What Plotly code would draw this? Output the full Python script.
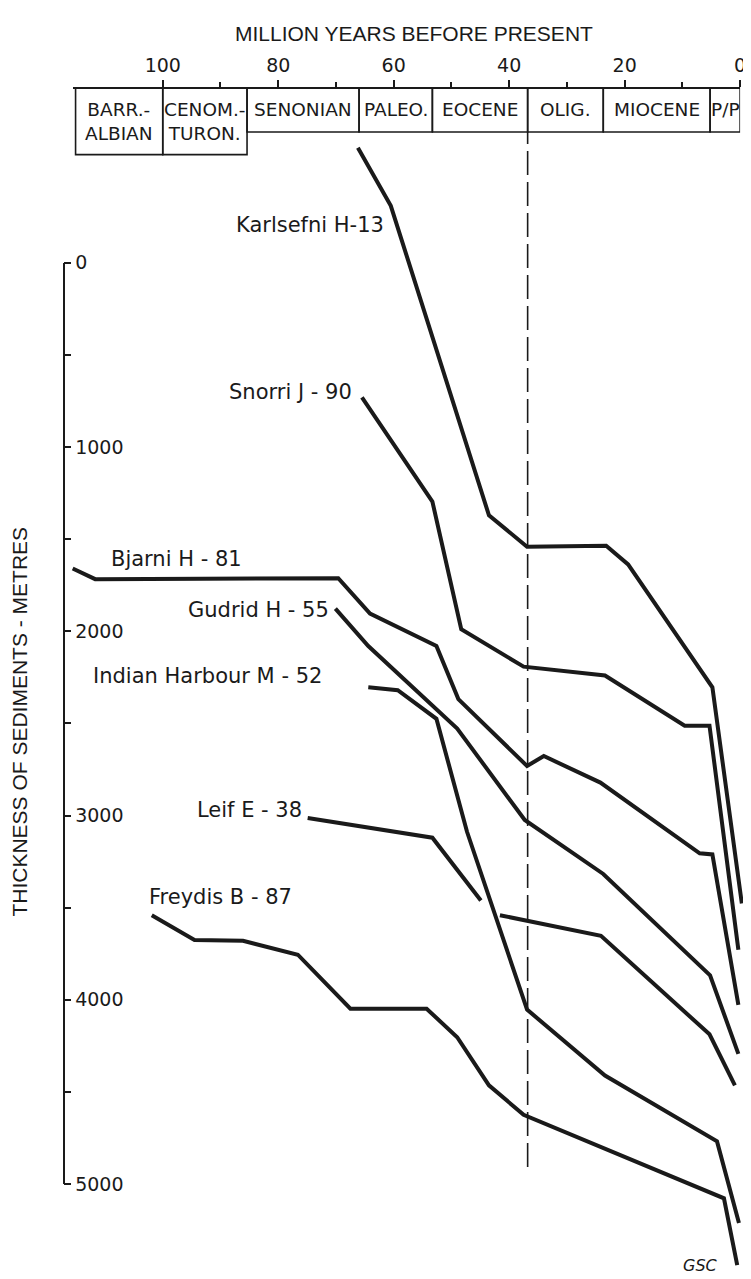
import plotly.graph_objects as go

# ---------------- data ----------------
age_ticks = [0, 20, 40, 60, 80, 100]
age_minor = [10, 30, 50, 70, 90]
depth_ticks = [0, 1000, 2000, 3000, 4000, 5000]
depth_minor = [500, 1500, 2500, 3500, 4500]

epoch_names = ["BARR.-<br>ALBIAN", "CENOM.-<br>TURON.", "SENONIAN", "PALEO.",
               "EOCENE", "OLIG.", "MIOCENE", "P/P"]
epoch_start = [115.1, 100.0, 85.4, 66.0, 53.3, 36.8, 23.7, 5.2]
epoch_end = [100.0, 85.4, 66.0, 53.3, 36.8, 23.7, 5.2, 0.0]
eo_olig_boundary = 36.8

karlsefni_age = [66.2, 60.5, 43.5, 36.9, 23.2, 19.4, 4.8, -0.3]
karlsefni_depth = [-624, -309, 1371, 1541, 1536, 1637, 2304, 3477]

snorri_age = [65.5, 53.3, 48.3, 37.5, 23.4, 9.6, 5.3, 0.3]
snorri_depth = [731, 1296, 1989, 2192, 2240, 2512, 2512, 3728]

bjarni_age = [115.6, 111.7, 69.6, 64.1, 52.6, 48.8, 36.9, 34.0, 24.2, 7.0, 4.8, 0.3]
bjarni_depth = [1659, 1717, 1712, 1904, 2080, 2368, 2731, 2677, 2821, 3205, 3211, 4027]

gudrid_age = [70.1, 64.4, 49.0, 37.3, 23.7, 5.2, 0.3]
gudrid_depth = [1877, 2080, 2528, 3024, 3317, 3867, 4293]

indian_age = [64.4, 59.3, 52.6, 47.3, 36.9, 23.4, 4.0, 0.2]
indian_depth = [2304, 2320, 2475, 3088, 4053, 4411, 4768, 5211]

leif_age = [74.9, 53.3, 44.9, None, 41.6, 24.1, 5.3, 0.9]
leif_depth = [3013, 3120, 3461, None, 3541, 3653, 4187, 4464]

freydis_age = [101.9, 94.5, 86.1, 76.6, 67.5, 54.3, 49.0, 43.5, 37.5, 2.8, 0.5]
freydis_depth = [3541, 3675, 3680, 3755, 4048, 4048, 4203, 4464, 4624, 5077, 5440]

well_names = ["Karlsefni H-13", "Snorri J - 90", "Bjarni H - 81", "Gudrid H - 55",
              "Indian Harbour M - 52", "Leif E - 38", "Freydis B - 87"]
well_ages = [karlsefni_age, snorri_age, bjarni_age, gudrid_age, indian_age, leif_age, freydis_age]
well_depths = [karlsefni_depth, snorri_depth, bjarni_depth, gudrid_depth, indian_depth,
               leif_depth, freydis_depth]

# ---------------- layout / style ----------------
W, H = 751, 1279
PX_PER_MYR = 5.82
X_PRESENT = 738.0
PX_PER_M = 0.1875
Y_SURFACE = 248.0
X_AXIS_LEFT = 66.0


def px_to_age(px):
    return (X_PRESENT - px) / PX_PER_MYR


def py_to_depth(py):
    return (py - Y_SURFACE) / PX_PER_M


INK = "#1a1a1a"
FONT = "DejaVu Sans"
TITLE_FONT = "Liberation Sans"

# label anchor positions (right edge px, centre y px)
label_pos = [(381, 210), (349, 380), (238, 549), (326, 601), (319, 668), (298, 805), (288, 893)]

fig = go.Figure()

for name, a, d in zip(well_names, well_ages, well_depths):
    fig.add_trace(go.Scatter(x=a, y=d, mode="lines", name=name,
                             line=dict(color=INK, width=4), connectgaps=False,
                             showlegend=False, hoverinfo="skip"))

# dummy traces so the display axes are drawn
fig.add_trace(go.Scatter(x=[None], y=[None], xaxis="x2", yaxis="y", showlegend=False))
fig.add_trace(go.Scatter(x=[None], y=[None], xaxis="x", yaxis="y2", showlegend=False))

box_top = 1 - 70 / H
box_bot = 1 - 115 / H
box_bot_low = 1 - 138 / H

shapes = []
annotations = []
for i, (nm, s, e) in enumerate(zip(epoch_names, epoch_start, epoch_end)):
    bot = box_bot_low if i < 2 else box_bot
    shapes.append(dict(type="rect", xref="x2", yref="paper", x0=s, x1=e, y0=bot, y1=box_top,
                       line=dict(color=INK, width=1.6), fillcolor="rgba(0,0,0,0)"))
    annotations.append(dict(xref="x2", yref="paper", x=(s + e) / 2, y=(bot + box_top) / 2,
                            text=nm, showarrow=False, xanchor="center", yanchor="middle",
                            font=dict(family=FONT, size=18.5, color=INK)))

# Eocene / Oligocene dashed line
shapes.append(dict(type="line", xref="x2", yref="paper", x0=eo_olig_boundary, x1=eo_olig_boundary,
                   y0=1 - 1168 / H, y1=box_bot, line=dict(color=INK, width=1.6, dash="24px,7px")))

for nm, (rx, cy) in zip(well_names, label_pos):
    annotations.append(dict(xref="x", yref="y", x=px_to_age(rx), y=py_to_depth(cy), text=nm,
                            showarrow=False, xanchor="right", yanchor="middle",
                            font=dict(family=FONT, size=21, color=INK)))

annotations.append(dict(xref="x", yref="y", x=px_to_age(718), y=py_to_depth(1268),
                        text="<i>GSC</i>", showarrow=False, xanchor="right", yanchor="middle",
                        font=dict(family=FONT, size=16, color=INK)))

annotations.append(dict(xref="paper", yref="paper", x=409 / W, y=1 - 15 / H,
                        text="MILLION YEARS BEFORE PRESENT", showarrow=False,
                        xanchor="center", yanchor="middle",
                        font=dict(family=TITLE_FONT, size=21, color=INK)))
annotations.append(dict(xref="paper", yref="paper", x=12 / W, y=1 - 715 / H,
                        text="THICKNESS OF SEDIMENTS - METRES", showarrow=False, textangle=-90,
                        xanchor="center", yanchor="middle",
                        font=dict(family=TITLE_FONT, size=21, color=INK)))

fig.update_layout(
    width=W, height=H, margin=dict(l=0, r=0, t=0, b=0),
    paper_bgcolor="white", plot_bgcolor="rgba(0,0,0,0)",
    xaxis=dict(domain=[0, 1], range=[px_to_age(0), px_to_age(W)], visible=False, showgrid=False),
    yaxis=dict(domain=[0, 1], range=[py_to_depth(H), py_to_depth(0)], visible=False, showgrid=False),
    xaxis2=dict(domain=[X_AXIS_LEFT / W, X_PRESENT / W], range=[px_to_age(X_AXIS_LEFT), 0],
                anchor="free", position=box_top, side="top", showgrid=False, zeroline=False,
                showline=True, linecolor=INK, linewidth=1.6,
                ticks="outside", ticklen=7, tickwidth=1.6, tickcolor=INK,
                tickvals=age_ticks, ticktext=[str(v) for v in age_ticks],
                tickfont=dict(family=FONT, size=19, color=INK),
                minor=dict(tickvals=age_minor, ticks="outside", ticklen=5, tickwidth=1.6,
                           tickcolor=INK, showgrid=False)),
    yaxis2=dict(domain=[1 - (Y_SURFACE + 5000 * PX_PER_M) / H, 1 - Y_SURFACE / H],
                range=[5000, 0], anchor="free", position=56 / W, side="right",
                showgrid=False, zeroline=False, showline=True, linecolor=INK, linewidth=1.6,
                ticks="outside", ticklen=7, tickwidth=1.6, tickcolor=INK,
                tickvals=depth_ticks, ticktext=[str(v) for v in depth_ticks],
                tickfont=dict(family=FONT, size=19, color=INK),
                minor=dict(tickvals=depth_minor, ticks="outside", ticklen=7, tickwidth=1.6,
                           tickcolor=INK, showgrid=False)),
    shapes=shapes, annotations=annotations, showlegend=False,
)

fig.write_html("out.html")
